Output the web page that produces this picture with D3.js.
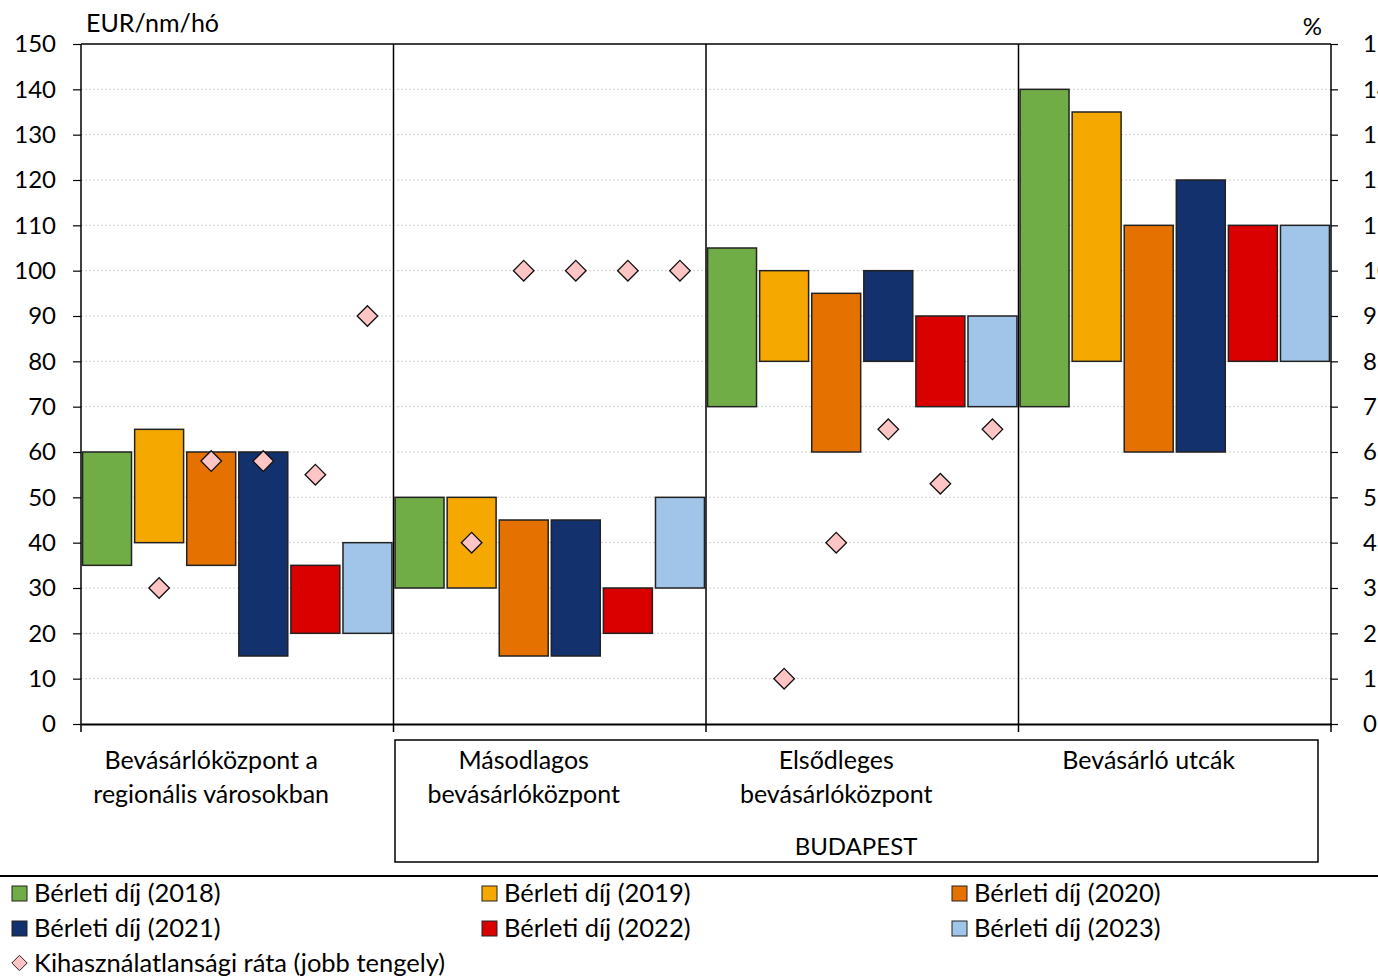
<!DOCTYPE html>
<html>
<head>
<meta charset="utf-8">
<script src="https://cdn.jsdelivr.net/npm/d3@7"></script>
<style>
  html, body { margin: 0; padding: 0; background: #fff; }
  svg { display: block; font-family: Lato, "Noto Sans", sans-serif; }
</style>
</head>
<body>
<svg id="chart" width="1378" height="977"></svg>
<script>
// Market segments (x categories, multi-line labels)
const categories = [
  ["Bevásárlóközpont a", "regionális városokban"],
  ["Másodlagos", "bevásárlóközpont"],
  ["Elsődleges", "bevásárlóközpont"],
  ["Bevásárló utcák"]
];
const years = ["2018", "2019", "2020", "2021", "2022", "2023"];

// Rent ranges, EUR/nm/hó: lower and upper bound per segment, one entry per year
const rentLow = [
  [35, 40, 35, 15, 20, 20],
  [30, 30, 15, 15, 20, 30],
  [70, 80, 60, 80, 70, 70],
  [70, 80, 60, 60, 80, 80]
];
const rentHigh = [
  [60, 65, 60, 60, 35, 40],
  [50, 50, 45, 45, 30, 50],
  [105, 100, 95, 100, 90, 90],
  [140, 135, 110, 120, 110, 110]
];
// Vacancy rate, % (right axis); null where not available
const vacancy = [
  [null, 3, 5.8, 5.8, 5.5, 9],
  [null, 4, 10, 10, 10, 10],
  [null, 1, 4, 6.5, 5.3, 6.5],
  [null, null, null, null, null, null]
];

const leftTicks = d3.range(0, 151, 10);
const rightTicks = d3.range(0, 16, 1);

const yearColors = ["#70AD47", "#F5A800", "#E57200", "#13316C", "#DA0000", "#A0C5E8"];
const vacancyFill = "#FFC4C4";

const svg = d3.select("#chart");
const m = { left: 81, right: 1331, top: 44, bottom: 724 };

const x0 = d3.scaleBand().domain(d3.range(categories.length)).range([m.left, m.right]).padding(0);
const x1 = d3.scaleBand().domain(years).range([0, x0.bandwidth()]).paddingInner(0.06).paddingOuter(0.03);
const y = d3.scaleLinear().domain([0, 150]).range([m.bottom, m.top]);
const y2 = d3.scaleLinear().domain([0, 15]).range([m.bottom, m.top]);

// Gridlines
svg.append("g").selectAll("line").data(leftTicks.filter(d => d > 0 && d < 150)).join("line")
  .attr("x1", m.left).attr("x2", m.right)
  .attr("y1", d => y(d)).attr("y2", d => y(d))
  .attr("stroke", "#d0d0d0").attr("stroke-width", 1).attr("stroke-dasharray", "2,2");

// Range bars
const groups = svg.append("g").selectAll("g").data(categories).join("g")
  .attr("transform", (d, i) => `translate(${x0(i)},0)`);
groups.each(function (c, ci) {
  d3.select(this).selectAll("rect").data(years).join("rect")
    .attr("x", yr => x1(yr))
    .attr("width", x1.bandwidth())
    .attr("y", (yr, j) => y(rentHigh[ci][j]))
    .attr("height", (yr, j) => y(rentLow[ci][j]) - y(rentHigh[ci][j]))
    .attr("fill", (yr, j) => yearColors[j])
    .attr("stroke", "#222").attr("stroke-width", 1.5);
});

// Segment separators
svg.append("g").selectAll("line").data(d3.range(1, categories.length)).join("line")
  .attr("x1", i => x0(i)).attr("x2", i => x0(i))
  .attr("y1", m.top).attr("y2", m.bottom + 8)
  .attr("stroke", "#000").attr("stroke-width", 1.5);

// Axes
const leftAxis = d3.axisLeft(y).tickValues(leftTicks).tickSize(8).tickPadding(17);
const gl = svg.append("g").attr("transform", `translate(${m.left},0)`).call(leftAxis);
const rightAxis = d3.axisRight(y2).tickValues(rightTicks).tickSize(7).tickPadding(25);
const gr = svg.append("g").attr("transform", `translate(${m.right},0)`).call(rightAxis);
[gl, gr].forEach(g => {
  g.select(".domain").attr("stroke", "#000").attr("stroke-width", 1.5);
  g.selectAll(".tick line").attr("stroke", "#000").attr("stroke-width", 1.2);
  g.selectAll(".tick text").attr("fill", "#000").attr("font-size", 24).attr("font-family", "Lato");
});
gl.select(".domain").attr("d", `M0,${m.top}V${m.bottom}`);
gr.select(".domain").attr("d", `M0,${m.top}V${m.bottom}`);

// Top and bottom frame
svg.append("line").attr("x1", m.left).attr("x2", m.right).attr("y1", m.top).attr("y2", m.top)
  .attr("stroke", "#000").attr("stroke-width", 1.5);
const xAxis = d3.axisBottom(x0).tickValues([]).tickSizeOuter(0);
const gx = svg.append("g").attr("transform", `translate(0,${m.bottom})`).call(xAxis);
gx.select(".domain").attr("stroke", "#000").attr("stroke-width", 2);
svg.append("g").selectAll("line").data([m.left, m.right]).join("line")
  .attr("x1", d => d).attr("x2", d => d).attr("y1", m.bottom).attr("y2", m.bottom + 8)
  .attr("stroke", "#000").attr("stroke-width", 1.5);

// Vacancy rate diamonds
const diamond = d3.symbol().type(d3.symbolDiamond2).size(270);
const vacPts = [];
vacancy.forEach((row, ci) => row.forEach((v, j) => {
  if (v != null) vacPts.push({ ci, yr: years[j], v });
}));
svg.append("g").selectAll("path").data(vacPts).join("path")
  .attr("d", diamond)
  .attr("transform", d => `translate(${x0(d.ci) + x1(d.yr) + x1.bandwidth() / 2},${y2(d.v)})`)
  .attr("fill", vacancyFill).attr("stroke", "#111").attr("stroke-width", 1.3);

// Axis titles
svg.append("text").attr("x", 86).attr("y", 32).attr("font-size", 25).text("EUR/nm/hó");
svg.append("text").attr("x", 1322).attr("y", 35).attr("font-size", 24).attr("text-anchor", "end").text("%");

// Category labels (centred half a slot left of the segment middle)
const catText = svg.append("g").attr("font-size", 25).attr("text-anchor", "middle");
categories.forEach((lines, i) => {
  const cx = x0(i) + x0.bandwidth() / 2 - x1.step() / 2;
  const t = catText.append("text").attr("x", cx).attr("y", 769);
  lines.forEach((ln, k) => t.append("tspan").attr("x", cx).attr("dy", k ? 34 : 0).text(ln));
});

// Budapest bracket box
svg.append("rect").attr("x", 395).attr("y", 740).attr("width", 923).attr("height", 122)
  .attr("fill", "none").attr("stroke", "#000").attr("stroke-width", 1.5);
svg.append("text").attr("x", 856).attr("y", 855).attr("font-size", 24).attr("text-anchor", "middle").text("BUDAPEST");

// Separator above legend
svg.append("line").attr("x1", 0).attr("x2", 1378).attr("y1", 876).attr("y2", 876)
  .attr("stroke", "#000").attr("stroke-width", 2);

// Legend
const legendItems = years.map((yr, j) => ({ label: `Bérleti díj (${yr})`, color: yearColors[j], type: "rect" }));
legendItems.push({ label: "Kihasználatlansági ráta (jobb tengely)", color: vacancyFill, type: "diamond" });
const colX = [12, 482, 952];
const rowY = [893, 928, 963];
const lg = svg.append("g");
legendItems.forEach((it, k) => {
  const cx = colX[k % 3], cy = rowY[Math.floor(k / 3)];
  if (it.type === "rect") {
    lg.append("rect").attr("x", cx).attr("y", cy - 7).attr("width", 15).attr("height", 15)
      .attr("fill", it.color).attr("stroke", "#222").attr("stroke-width", 1);
  } else {
    lg.append("path").attr("d", d3.symbol().type(d3.symbolDiamond2).size(150)())
      .attr("transform", `translate(${cx + 7.5},${cy})`)
      .attr("fill", it.color).attr("stroke", "#222").attr("stroke-width", 1);
  }
  lg.append("text").attr("x", cx + 22).attr("y", cy + 9).attr("font-size", 25.5).text(it.label);
});
</script>
</body>
</html>
